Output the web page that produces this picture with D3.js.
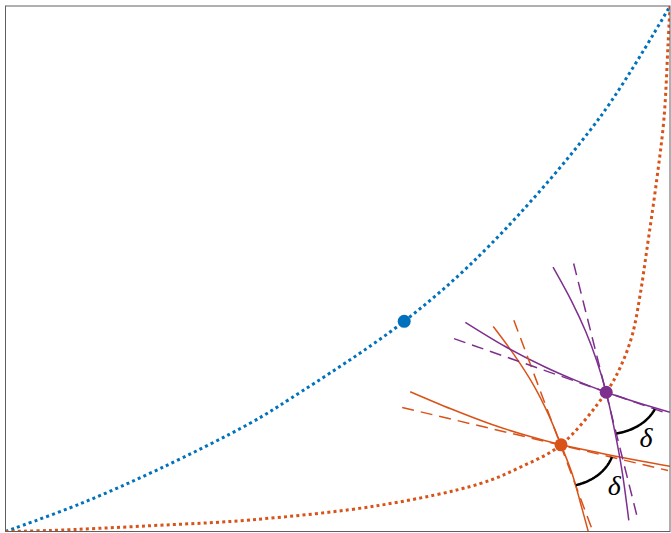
<!DOCTYPE html>
<html>
<head>
<meta charset="utf-8">
<script src="https://cdn.jsdelivr.net/npm/d3@7"></script>
<style>
  html, body { margin: 0; padding: 0; background: #fff; }
  svg { display: block; }
</style>
</head>
<body>
<script>
// Two image curves of the mapping (dotted), with local grid curves (solid)
// and their tangents (dashed) at two points; the angle delta is preserved.

const blueCurve = [
  [0, 0], [0.113, 0.053], [0.233, 0.120], [0.368, 0.206], [0.429, 0.253],
  [0.600, 0.400], [0.729, 0.545], [0.895, 0.789], [1, 1]
];
const orangeCurve = [
  [0, 0], [0.068, 0.002], [0.218, 0.011], [0.368, 0.022], [0.564, 0.050],
  [0.714, 0.091], [0.774, 0.122], [0.836, 0.165], [0.904, 0.265],
  [0.925, 0.312], [0.943, 0.373], [0.955, 0.450], [0.965, 0.535],
  [0.980, 0.669], [0.991, 0.787], [0.997, 0.926], [1, 1]
];

const bluePoint = [0.600, 0.400];
const orangePoint = [0.836, 0.165];
const purplePoint = [0.904, 0.265];

// grid curves through the orange point and their tangents
// (tangents listed from their upper/left end to their lower/right end)
const orangeShallow = [
  [0.609, 0.266], [0.671, 0.233], [0.731, 0.204], [0.783, 0.183], [0.836, 0.165],
  [0.896, 0.149], [0.956, 0.134], [1.0, 0.124]
];
const orangeSteep = [
  [0.734, 0.390], [0.765, 0.337], [0.794, 0.280], [0.817, 0.223], [0.836, 0.165],
  [0.853, 0.109], [0.866, 0.051], [0.877, 0.0]
];
const orangeShallowTangent = [[0.597, 0.236], [0.997, 0.116]];
const orangeSteepTangent = [[0.765, 0.402], [0.884, 0.0]];

// grid curves through the purple point and their tangents
const purpleShallow = [
  [0.692, 0.398], [0.752, 0.352], [0.812, 0.313], [0.857, 0.288], [0.904, 0.265],
  [0.947, 0.247], [1.0, 0.227]
];
const purpleSteep = [
  [0.824, 0.503], [0.852, 0.438], [0.873, 0.381], [0.890, 0.324], [0.904, 0.265],
  [0.917, 0.190], [0.928, 0.114], [0.938, 0.021]
];
const purpleShallowTangent = [[0.675, 0.367], [0.997, 0.224]];
const purpleSteepTangent = [[0.855, 0.510], [0.952, 0.021]];

const angleRadius = 0.08;
const angleLabels = [
  { text: "δ", at: [0.916, 0.088] },
  { text: "δ", at: [0.964, 0.179] }
];

const colors = { blue: "#0072BD", orange: "#D95319", purple: "#7E2F8E" };

const W = 671, H = 533;
const x = d3.scaleLinear().domain([0, 1]).range([5.5, 670]);
const y = d3.scaleLinear().domain([0, 1]).range([531.5, 6]);

const svg = d3.select("body").append("svg")
  .attr("width", W).attr("height", H)
  .style("background", "#fff");

svg.append("defs").append("clipPath").attr("id", "plot-area")
  .append("rect")
  .attr("x", x(0)).attr("y", y(1))
  .attr("width", x(1) - x(0)).attr("height", y(0) - y(1));

const g = svg.append("g").attr("clip-path", "url(#plot-area)");

const smooth = d3.line().x(d => x(d[0])).y(d => y(d[1])).curve(d3.curveCatmullRom.alpha(0.5));
const straight = d3.line().x(d => x(d[0])).y(d => y(d[1]));

// dotted image curves
[[blueCurve, colors.blue], [orangeCurve, colors.orange]].forEach(([data, c]) => {
  g.append("path").attr("d", smooth(data))
    .attr("fill", "none").attr("stroke", c)
    .attr("stroke-width", 3).attr("stroke-dasharray", "3 3.2");
});

// solid grid curves
[[orangeShallow, colors.orange], [orangeSteep, colors.orange],
 [purpleShallow, colors.purple], [purpleSteep, colors.purple]].forEach(([data, c]) => {
  g.append("path").attr("d", smooth(data))
    .attr("fill", "none").attr("stroke", c).attr("stroke-width", 1.5);
});

// dashed tangents
[[orangeShallowTangent, colors.orange], [orangeSteepTangent, colors.orange],
 [purpleShallowTangent, colors.purple], [purpleSteepTangent, colors.purple]].forEach(([data, c]) => {
  g.append("path").attr("d", straight(data))
    .attr("fill", "none").attr("stroke", c).attr("stroke-width", 1.5)
    .attr("stroke-dasharray", "12 7");
});

// angle arcs between the lower/right halves of the tangents, as circles in data units
function tangentAngle(center, line) {
  const end = line[1];
  return Math.atan2(end[1] - center[1], end[0] - center[0]);
}
function arcPath(center, lineA, lineB) {
  const a0 = tangentAngle(center, lineA), a1 = tangentAngle(center, lineB);
  const pts = d3.range(0, 1.0001, 1 / 40).map(t => {
    const a = a0 + (a1 - a0) * t;
    return [center[0] + angleRadius * Math.cos(a), center[1] + angleRadius * Math.sin(a)];
  });
  return straight(pts);
}
g.append("path").attr("d", arcPath(orangePoint, orangeSteepTangent, orangeShallowTangent))
  .attr("fill", "none").attr("stroke", "#000").attr("stroke-width", 2.5);
g.append("path").attr("d", arcPath(purplePoint, purpleSteepTangent, purpleShallowTangent))
  .attr("fill", "none").attr("stroke", "#000").attr("stroke-width", 2.5);

// marked points
[[bluePoint, colors.blue], [orangePoint, colors.orange], [purplePoint, colors.purple]].forEach(([p, c]) => {
  g.append("circle").attr("cx", x(p[0])).attr("cy", y(p[1])).attr("r", 6.5).attr("fill", c);
});

// angle labels
angleLabels.forEach(l => {
  svg.append("text")
    .attr("x", x(l.at[0])).attr("y", y(l.at[1]))
    .attr("text-anchor", "middle").attr("dominant-baseline", "central")
    .attr("font-family", "'Liberation Serif', 'DejaVu Serif', serif")
    .attr("font-style", "italic").attr("font-size", 28)
    .attr("fill", "#000")
    .text(l.text);
});

// axes box
svg.append("rect")
  .attr("x", x(0)).attr("y", y(1))
  .attr("width", x(1) - x(0)).attr("height", y(0) - y(1))
  .attr("fill", "none").attr("stroke", "#606060").attr("stroke-width", 1);
</script>
</body>
</html>
